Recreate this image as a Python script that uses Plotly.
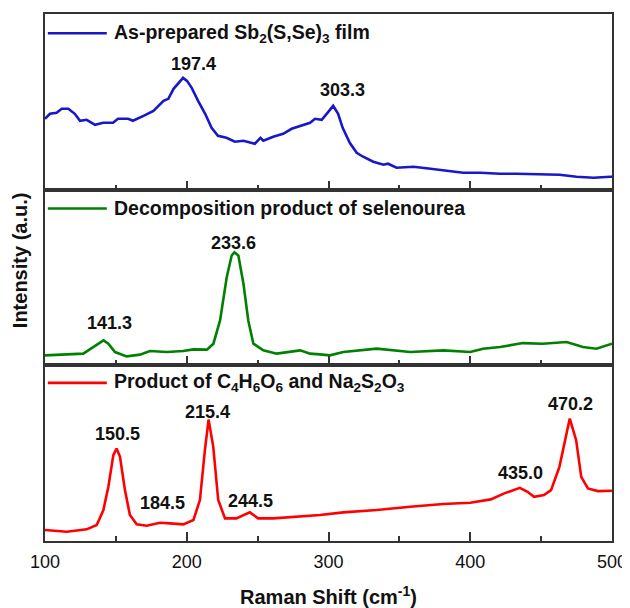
import plotly.graph_objects as go
from plotly.subplots import make_subplots

# ---- data (intensities in arbitrary units) ----
film_x = [100, 103.5, 108.2, 111.8, 116.5, 121, 124.7, 129.4, 135.3, 141, 148, 151.5, 158.7, 162,
          169.5, 176.5, 183.6, 187, 190.7, 194, 197.4, 200.2, 203.5, 208, 213, 217.5, 222, 228, 234,
          240, 248, 252, 254, 261, 268, 274, 280, 287, 290.5, 295.2, 298.7, 303.3, 306.8, 310, 315,
          319.9, 324.4, 331.6, 338.8, 342, 348, 360, 372, 384, 395, 407, 421, 432.8, 451, 463, 475,
          487, 498.6, 500]
film_y = [71, 76, 77, 81, 81, 76, 69, 70, 65, 67, 67, 71, 71, 69,
          74, 79, 89, 91, 101, 107, 112, 109, 102, 89, 76, 62, 54, 52, 48,
          49, 46, 52, 49, 53, 56, 61, 64, 67, 71, 70, 76, 84, 76, 62, 47,
          37, 33, 28, 25, 26, 22, 23, 21, 19, 17, 17, 16, 16, 15, 15, 13,
          12, 13, 13]

sel_x = [100, 115.3, 127, 134, 137.6, 141.3, 144.7, 149.4, 157.6, 167, 174, 185.9, 197.5, 204.7,
         214.3, 218.8, 223.5, 228.2, 231.7, 233.6, 236.4, 240, 243.4, 247, 254, 263.5, 280, 287,
         294, 301, 310.5, 334, 357.6, 381, 400, 409, 421, 437, 451, 468, 479.5, 489, 500]
sel_y = [10, 11, 11.7, 18.3, 21.7, 25, 21.7, 13.3, 9, 10.7, 14.3, 13.3, 14.3, 16,
         15.7, 21.7, 45, 88.3, 110, 113.3, 110, 81.7, 45, 21.7, 15, 11.7, 15, 11.7,
         11, 10, 13.3, 16.7, 13.3, 15, 13.3, 16.7, 18.3, 22.3, 21.7, 23.3, 18.3, 16.7, 21.7]

prod_x = [100, 115.3, 129.4, 136.5, 141.2, 144.7, 148.2, 150.5, 152.9, 156.4, 159.9, 164.7, 171.7,
          181.1, 188.2, 197.6, 204.7, 209.3, 212.8, 215.4, 218.7, 222.2, 227, 235, 244.5, 250.4,
          261, 280, 294, 310.5, 334, 357.6, 381, 400, 414.5, 424, 429.7, 435, 440.4, 445, 452, 457,
          462.9, 467.6, 470.2, 474.7, 478.3, 483, 490, 500]
prod_y = [11, 9.3, 11.7, 16, 31, 54.3, 86, 92.7, 84.3, 51, 26, 16.7, 15.3,
          18.3, 17.7, 16.7, 21, 41, 91, 121.7, 94.3, 41, 22.7, 22.7, 28.7, 22.7,
          22.7, 24.3, 26, 28.7, 31, 34.3, 37, 38.3, 41.7, 47.7, 50.3, 53.3, 49.3, 44.3, 46, 51,
          74.3, 107.7, 122.7, 101, 64.3, 52.7, 50, 50.3]

series_names = ["As-prepared Sb<sub>2</sub>(S,Se)<sub>3</sub> film",
                "Decomposition product of selenourea",
                "Product of C<sub>4</sub>H<sub>6</sub>O<sub>6</sub> and Na<sub>2</sub>S<sub>2</sub>O<sub>3</sub>"]
series_colors = ["#1818c8", "#008000", "#ff0000"]

# peak labels: (row, label, x, y)
peak_labels = [
    (1, "197.4", 204.6, 126), (1, "303.3", 310, 100),
    (2, "141.3", 145.4, 42), (2, "233.6", 232.8, 123),
    (3, "150.5", 151, 107), (3, "184.5", 183, 38), (3, "215.4", 214.5, 129),
    (3, "244.5", 245, 40), (3, "435.0", 435.6, 68), (3, "470.2", 470.4, 137),
]

x_ticks = [100, 200, 300, 400, 500]

FONT = "Liberation Sans, Arial, sans-serif"

fig = make_subplots(rows=3, cols=1, shared_xaxes=True, vertical_spacing=0)

for i, (xs, ys) in enumerate([(film_x, film_y), (sel_x, sel_y), (prod_x, prod_y)]):
    fig.add_trace(go.Scatter(x=xs, y=ys, mode="lines", name=series_names[i],
                             line=dict(color=series_colors[i], width=2.6),
                             showlegend=False), row=i + 1, col=1)

legend_y = [0.89, 0.893, 0.9]
for i in range(3):
    r = i + 1
    fig.update_xaxes(range=[100, 500], tickvals=x_ticks, ticks="inside", ticklen=9, tickwidth=1.5,
                     tickcolor="#333", showline=True, linecolor="#333", linewidth=1.8, mirror=True,
                     showgrid=False, zeroline=False, automargin=False,
                     minor=dict(ticks="inside", ticklen=5, tickwidth=1.5, tickcolor="#333",
                                tickvals=[150, 250, 350, 450]),
                     row=r, col=1)
    fig.update_yaxes(range=[0, 176], showticklabels=False, ticks="", showline=True,
                     linecolor="#333", linewidth=1.8, mirror=True, showgrid=False, zeroline=False,
                     automargin=False, row=r, col=1)
    xd = "x domain" if r == 1 else f"x{r} domain"
    yd = "y domain" if r == 1 else f"y{r} domain"
    fig.add_shape(type="line", xref=xd, yref=yd, x0=0.005, x1=0.109, y0=legend_y[i], y1=legend_y[i],
                  line=dict(color=series_colors[i], width=2.6))
    fig.add_annotation(xref=xd, yref=yd, x=0.119, y=legend_y[i], text="<b>" + series_names[i] + "</b>",
                       showarrow=False, xanchor="left", yanchor="middle",
                       font=dict(family=FONT, size=19.5, color="#111"))

for r, lab, px, py in peak_labels:
    xr = "x" if r == 1 else f"x{r}"
    yr = "y" if r == 1 else f"y{r}"
    fig.add_annotation(xref=xr, yref=yr, x=px, y=py, text="<b>" + lab + "</b>", showarrow=False,
                       xanchor="center", yanchor="middle",
                       font=dict(family=FONT, size=18, color="#111"))

fig.update_xaxes(tickfont=dict(family=FONT, size=18, color="#111"), ticklabelstandoff=3,
                 row=3, col=1)
fig.update_xaxes(tickprefix="<b>", ticksuffix="</b>", row=3, col=1)
fig.update_xaxes(title=dict(text="<b>Raman Shift (cm<sup>-1</sup>)</b>", standoff=29,
                            font=dict(family=FONT, size=20, color="#111")), row=3, col=1)

fig.add_annotation(xref="paper", yref="paper", x=-0.044, y=0.533, text="<b>Intensity (a.u.)</b>",
                   textangle=-90, showarrow=False, xanchor="center", yanchor="middle",
                   font=dict(family=FONT, size=20, color="#111"))

# page body has an 8px default margin, so the figure is sized to fit inside the window
fig.update_layout(width=622, height=600, margin=dict(l=37, r=18, t=6, b=67),
                  plot_bgcolor="white", paper_bgcolor="white", showlegend=False)

fig.write_html("out.html")
